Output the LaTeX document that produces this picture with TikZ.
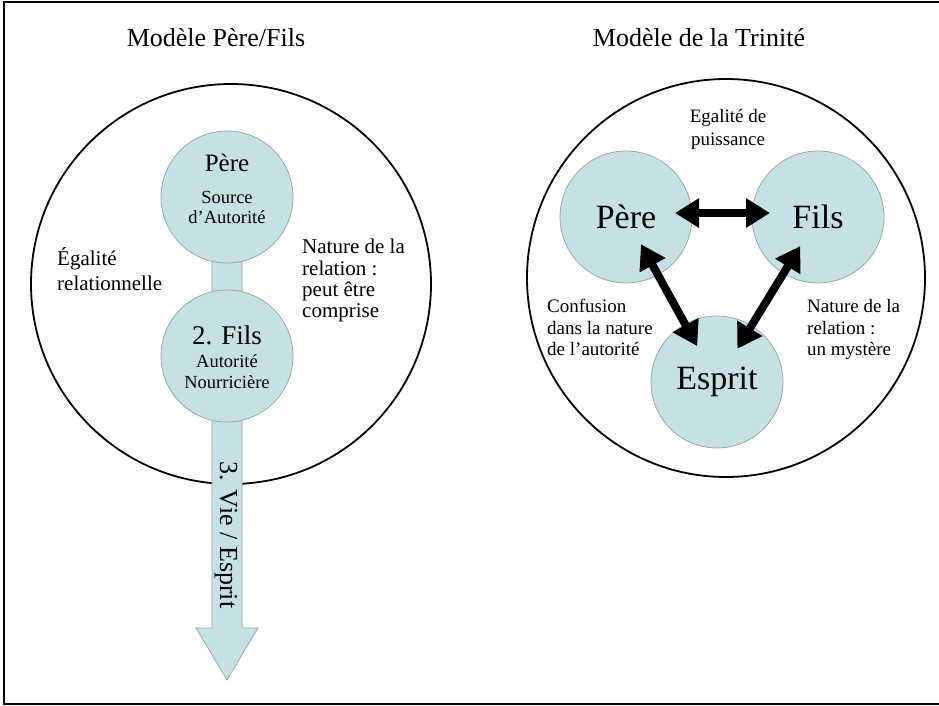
\documentclass[tikz,border=0pt]{standalone}
\usepackage{fontspec}
\setmainfont{Liberation Serif}
\usetikzlibrary{arrows.meta}
\definecolor{bubble}{HTML}{C5E1E5}
\definecolor{bubbleline}{HTML}{8FA3A6}
\begin{document}
\begin{tikzpicture}[x=1pt,y=-1pt,
  bubble/.style={circle, fill=bubble, draw=bubbleline, line width=0.7pt, minimum size=132pt, inner sep=0pt},
  bigring/.style={circle, draw=black, line width=1.8pt, inner sep=0pt},
  ttl/.style={anchor=base, inner sep=0pt, font=\fontsize{26}{28}\selectfont},
  lbl/.style={anchor=base west, inner sep=0pt, font=\fontsize{21}{23}\selectfont},
  lbls/.style={anchor=base west, inner sep=0pt, font=\fontsize{19}{21}\selectfont},
  lblc/.style={anchor=base, inner sep=0pt, font=\fontsize{19}{21}\selectfont},
  head/.style={anchor=base, inner sep=0pt, font=\fontsize{25}{27}\selectfont},
  sub/.style={anchor=base, inner sep=0pt, font=\fontsize{18.5}{20}\selectfont},
  bigname/.style={font=\fontsize{34}{36}\selectfont},
  dbl/.style={line width=8pt, {Triangle[length=24pt,width=28pt]}-{Triangle[length=24pt,width=28pt]}}
]
\useasboundingbox (0,0) rectangle (939,706);
\draw[line width=2pt] (4,2) rectangle (950,704);

% ---------- left panel ----------
\node[ttl] (t1) at (216,47) {Modèle Père/Fils};
\node[bigring, minimum size=400pt] (bigL) at (231,284) {};
\draw[fill=bubble, draw=bubbleline, line width=0.7pt]
  (212,230) -- (212,628) -- (196,628) -- (227,680) -- (258,628) -- (242,628) -- (242,230) -- cycle;
\node[bubble] (pereL) at (227,197) {};
\node[bubble] (filsL) at (227,356) {};
\node[head] (pereLt) at (227,171) {Père};
\node[sub] (pereLs1) at (227,203) {Source};
\node[sub] (pereLs2) at (227,223) {d’Autorité};
\node[head, font=\fontsize{27}{29}\selectfont] (filsLt) at (227,344) {2. Fils};
\node[sub] (filsLs1) at (227,367) {Autorité};
\node[sub] (filsLs2) at (227,388) {Nourricière};
\node[rotate=-90, inner sep=0pt, font=\fontsize{26}{28}\selectfont] (vie) at (226,535) {3. Vie / Esprit};
\node[lbl] (eg1) at (57,265) {Égalité};
\node[lbl] (eg2) at (57,290) {relationnelle};
\node[lbl] (na1) at (302,253) {Nature de la};
\node[lbl] (na2) at (302,275) {relation :};
\node[lbl] (na3) at (302,296) {peut être};
\node[lbl] (na4) at (302,317) {comprise};

% ---------- right panel ----------
\node[ttl] (t2) at (699,47) {Modèle de la Trinité};
\node[bigring, minimum size=398pt] (bigR) at (726,278) {};
\node[bubble, bigname] (pereR) at (626,217) {Père};
\node[bubble, bigname] (filsR) at (818,217) {Fils};
\node[bubble, bigname] (espritR) at (717,382) {Esprit};
\draw[dbl, shorten <=49pt, shorten >=48pt] ([yshift=4pt]pereR.center) -- ([yshift=4pt]filsR.center);
\draw[dbl, shorten <=31pt, shorten >=41pt] (pereR.center) -- (espritR.center);
\draw[dbl, shorten <=34pt, shorten >=39pt] (filsR.center) -- (espritR.center);
\node[lblc] (ep1) at (728,122) {Egalité de};
\node[lblc] (ep2) at (728,145) {puissance};
\node[lbls] (cf1) at (547,312) {Confusion};
\node[lbls] (cf2) at (547,334) {dans la nature};
\node[lbls] (cf3) at (547,355) {de l’autorité};
\node[lbls] (nm1) at (807,312) {Nature de la};
\node[lbls] (nm2) at (807,334) {relation :};
\node[lbls] (nm3) at (807,355) {un mystère};
\end{tikzpicture}
\end{document}
